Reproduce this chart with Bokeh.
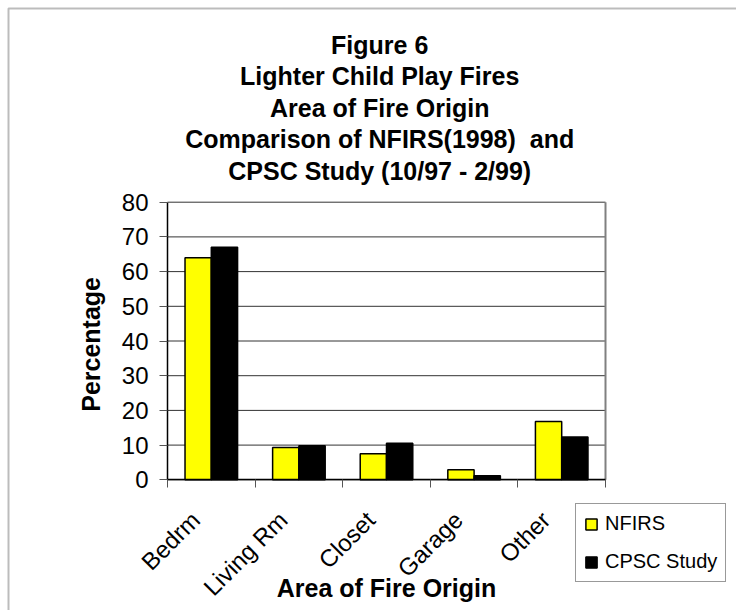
import numpy as np
from bokeh.plotting import figure
from bokeh.models import (Range1d, FixedTicker, Label, Legend, LegendItem,
                          ColumnDataSource, BoxAnnotation)
from bokeh.transform import dodge
from bokeh.embed import file_html
from bokeh.resources import INLINE

# ---- data ----
categories = ["Bedrm", "Living Rm", "Closet", "Garage", "Other"]
nfirs = [64.0, 9.3, 7.5, 2.9, 16.8]
cpsc = [67.0, 9.8, 10.5, 1.2, 12.3]
series_names = ["NFIRS", "CPSC Study"]
y_ticks = [0, 10, 20, 30, 40, 50, 60, 70, 80]
title_lines = ["Figure 6", "Lighter Child Play Fires", "Area of Fire Origin",
               "Comparison of NFIRS(1998)\u00a0 and", "CPSC Study (10/97 - 2/99)"]
x_title = "Area of Fire Origin"
y_title = "Percentage"

FONT = "Liberation Sans"
W, H = 736, 610

# layout of the plotting area in pixels of the canvas
PX_LEFT, PX_RIGHT = 167.0, 605.0
PX_TOP, PX_BOTTOM = 201.7, 479.3
n = len(categories)
ymax = y_ticks[-1]
ux = (PX_RIGHT - PX_LEFT) / n
uy = (PX_BOTTOM - PX_TOP) / ymax

x_range = Range1d(-PX_LEFT / ux, n + (W - PX_RIGHT) / ux)
y_range = Range1d(-(H - PX_BOTTOM) / uy, PX_BOTTOM / uy)

centers = np.arange(n) + 0.5
bar_w = 0.3
LABEL_SHIFT = -0.18

src = ColumnDataSource(dict(x=centers, nfirs=nfirs, cpsc=cpsc, cat=categories))
grid_src = ColumnDataSource(dict(y=y_ticks, x0=[0] * len(y_ticks), x1=[n] * len(y_ticks)))

p = figure(width=W, height=H, x_range=x_range, y_range=y_range,
           output_backend="svg", toolbar_location=None,
           min_border=0, min_border_left=0, min_border_right=0,
           min_border_top=0, min_border_bottom=0)
p.background_fill_color = "white"
p.border_fill_color = "white"
p.outline_line_color = None
p.xgrid.visible = False
p.ygrid.visible = False

# outer chart border (top and left visible)
p.add_layout(BoxAnnotation(left=(8 - PX_LEFT) / ux, right=x_range.end + 5,
                           top=(PX_BOTTOM - 8) / uy, bottom=y_range.start - 5,
                           fill_alpha=0, line_color="#222222", line_width=2,
                           level="underlay"))

# gridlines
p.segment(x0="x0", x1="x1", y0="y", y1="y", source=grid_src,
          line_color="#333333", line_width=1)
# right edge of plot area
p.segment(x0=[n], x1=[n], y0=[0], y1=[ymax], line_color="#808080", line_width=2)

r1 = p.vbar(x=dodge("x", -bar_w / 2), top="nfirs", width=bar_w, source=src,
            fill_color="#FFFF00", line_color="black", line_width=1.5)
r2 = p.vbar(x=dodge("x", bar_w / 2), top="cpsc", width=bar_w, source=src,
            fill_color="black", line_color="black", line_width=1.5)

# y axis
p.yaxis.fixed_location = 0
p.yaxis.bounds = (0, ymax)
p.yaxis.ticker = FixedTicker(ticks=y_ticks)
p.yaxis.major_label_text_font = FONT
p.yaxis.major_label_text_font_size = "24px"
p.yaxis.major_label_text_color = "black"
p.yaxis.major_tick_out = 8
p.yaxis.major_tick_in = 0
p.yaxis.major_tick_line_color = "#555555"
p.yaxis.minor_tick_line_color = None
p.yaxis.axis_line_color = "black"
p.yaxis.axis_line_width = 1.5
p.yaxis.major_label_standoff = 11

# x axis
p.xaxis.fixed_location = 0
p.xaxis.bounds = (0, n)
p.xaxis.ticker = FixedTicker(ticks=list(centers + LABEL_SHIFT),
                             minor_ticks=list(range(n + 1)))
p.xaxis.major_label_overrides = {float(c + LABEL_SHIFT): cat
                                 for c, cat in zip(centers, categories)}
p.xaxis.major_label_orientation = np.pi / 4
p.xaxis.major_label_text_font = FONT
p.xaxis.major_label_text_font_size = "24px"
p.xaxis.major_label_text_color = "black"
p.xaxis.major_tick_line_color = None
p.xaxis.major_tick_out = 0
p.xaxis.major_tick_in = 0
p.xaxis.minor_tick_out = 8
p.xaxis.minor_tick_in = 0
p.xaxis.minor_tick_line_color = "#555555"
p.xaxis.axis_line_color = "black"
p.xaxis.axis_line_width = 1.5
p.xaxis.major_label_standoff = 28

# titles
TITLE_X = (379.2 - PX_LEFT) / ux
TITLE_BASE_PX = 44.0
TITLE_STEP_PX = 31.6
for i, line in enumerate(title_lines):
    p.add_layout(Label(x=TITLE_X, y=(PX_BOTTOM - (TITLE_BASE_PX + i * TITLE_STEP_PX)) / uy,
                       text=line, text_align="center", text_baseline="alphabetic",
                       text_font=FONT, text_font_size="25px",
                       text_font_style="bold", text_color="black"))

# axis titles
p.add_layout(Label(x=n / 2, y=(PX_BOTTOM - 587.0) / uy, text=x_title,
                   text_align="center", text_baseline="alphabetic",
                   text_font=FONT, text_font_size="25px",
                   text_font_style="bold", text_color="black"))
p.add_layout(Label(x=(90.5 - PX_LEFT) / ux, y=(PX_BOTTOM - 343.9) / uy, text=y_title,
                   angle=np.pi / 2, text_align="center", text_baseline="middle",
                   text_font=FONT, text_font_size="25px",
                   text_font_style="bold", text_color="black"))

legend = Legend(items=[LegendItem(label=series_names[0], renderers=[r1]),
                       LegendItem(label=series_names[1], renderers=[r2])],
                location=(575, H - 582), orientation="vertical")
legend.label_text_font = FONT
legend.label_text_font_size = "20px"
legend.label_text_color = "black"
legend.glyph_width = 14
legend.glyph_height = 14
legend.label_standoff = 7
legend.label_height = 20
legend.padding = 8
legend.spacing = 15
legend.margin = 0
legend.border_line_color = "#333333"
legend.border_line_width = 1
legend.background_fill_color = "white"
legend.background_fill_alpha = 1.0
p.add_layout(legend)

open("out.html", "w").write(file_html(p, INLINE))
